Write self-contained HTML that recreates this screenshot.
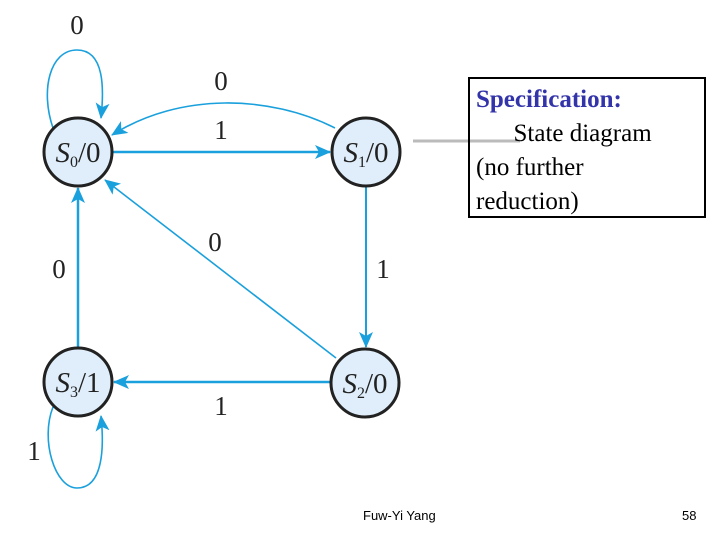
<!DOCTYPE html>
<html><head><style>
body{margin:0;width:720px;height:540px;background:#fff;overflow:hidden;position:relative;font-family:"Liberation Serif",serif}
svg{position:absolute;left:0;top:0}
.box{position:absolute;left:468px;top:77px;width:238px;height:141px;border:2px solid #000;font-size:25px;line-height:34px;padding:4px 0 0 6px;box-sizing:border-box}
.ft{position:absolute;top:508px;font-family:"Liberation Sans",sans-serif;font-size:13px}
</style></head><body>
<svg width="720" height="540">
<defs><marker id="b" markerWidth="16" markerHeight="14" refX="15" refY="7" orient="auto" markerUnits="userSpaceOnUse"><path d="M0,0 L16,7 L0,14 L4,7 Z" fill="#1aa0dc"/></marker></defs>
<line x1="413" y1="141" x2="520" y2="141" stroke="#bbb" stroke-width="3"/>
<g stroke="#1aa0dc" fill="none" stroke-width="2">
<path d="M53,128 C40,90 50,50 77,50 C105,50 104,90 101,118" stroke-width="1.6" marker-end="url(#b)"/>
<path d="M53,407 C40,440 55,488 77,488 C104,488 104,445 101,416" stroke-width="1.6" marker-end="url(#b)"/>
<path d="M335,128 C270,95 180,92 112,135" stroke-width="1.6" marker-end="url(#b)"/>
<line x1="112" y1="152" x2="330" y2="152" stroke-width="2.5" marker-end="url(#b)"/>
<line x1="336" y1="358" x2="105" y2="180" stroke-width="1.6" marker-end="url(#b)"/>
<line x1="366" y1="187" x2="366" y2="347" stroke-width="2" marker-end="url(#b)"/>
<line x1="331" y1="382" x2="114" y2="382" stroke-width="2.5" marker-end="url(#b)"/>
<line x1="78" y1="348" x2="78" y2="188" stroke-width="2.5" marker-end="url(#b)"/>
</g>
<g fill="#dfeefa" stroke="#222" stroke-width="3">
<circle cx="78" cy="152" r="34"/><circle cx="366" cy="152" r="34"/>
<circle cx="365" cy="383" r="34"/><circle cx="78" cy="382" r="34"/>
</g>
<g font-family="Liberation Serif,serif" font-size="29" fill="#222" text-anchor="middle">
<text x="78" y="162"><tspan font-style="italic">S</tspan><tspan font-size="16" dy="5">0</tspan><tspan dy="-5">/0</tspan></text>
<text x="366" y="162"><tspan font-style="italic">S</tspan><tspan font-size="16" dy="5">1</tspan><tspan dy="-5">/0</tspan></text>
<text x="365" y="393"><tspan font-style="italic">S</tspan><tspan font-size="16" dy="5">2</tspan><tspan dy="-5">/0</tspan></text>
<text x="78" y="392"><tspan font-style="italic">S</tspan><tspan font-size="16" dy="5">3</tspan><tspan dy="-5">/1</tspan></text>
</g>
<g font-family="Liberation Serif,serif" font-size="27" fill="#222" text-anchor="middle">
<text x="77" y="34">0</text><text x="221" y="90">0</text><text x="221" y="139">1</text>
<text x="215" y="251">0</text><text x="383" y="278">1</text><text x="59" y="278">0</text>
<text x="221" y="415">1</text><text x="34" y="460">1</text>
</g>
</svg>
<div class="box"><b style="color:#3333aa">Specification:</b><br>&nbsp;&nbsp;&nbsp;&nbsp;&nbsp;&nbsp;State diagram<br>(no further<br>reduction)</div>
<div class="ft" style="left:363px">Fuw-Yi Yang</div>
<div class="ft" style="left:682px">58</div>
</body></html>
